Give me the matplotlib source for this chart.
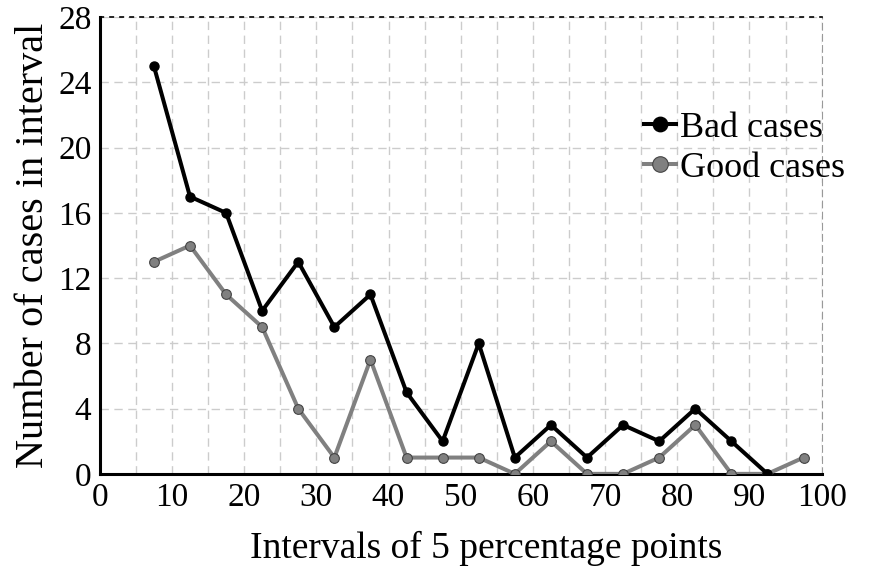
import numpy as np
import matplotlib.pyplot as plt

plt.rcParams['font.family'] = ['Liberation Serif', 'DejaVu Serif']

x_bad = [7.5, 12.5, 17.5, 22.5, 27.5, 32.5, 37.5, 42.5, 47.5, 52.5,
         57.5, 62.5, 67.5, 72.5, 77.5, 82.5, 87.5, 92.5]
bad = [25, 17, 16, 10, 13, 9, 11, 5, 2, 8, 1, 3, 1, 3, 2, 4, 2, 0]
x_good = [7.5, 12.5, 17.5, 22.5, 27.5, 32.5, 37.5, 42.5, 47.5, 52.5,
          57.5, 62.5, 67.5, 72.5, 77.5, 82.5, 87.5, 92.5, 97.5]
good = [13, 14, 11, 9, 4, 1, 7, 1, 1, 1, 0, 2, 0, 0, 1, 3, 0, 0, 1]

fig = plt.figure(figsize=(8.75, 5.73), dpi=100)
ax = fig.add_axes([0.114, 0.173, 0.825, 0.797])

ax.plot(x_bad, bad, color='black', lw=2.9, marker='o', ms=6.5, zorder=4,
        label='Bad cases')
ax.plot(x_good, good, color='#808080', lw=2.9, marker='o', ms=7,
        markeredgecolor='#444444', markeredgewidth=0.8, zorder=3,
        label='Good cases')

ax.set_xlim(0, 100)
ax.set_ylim(0, 28)
ax.set_xticks(np.arange(0, 101, 10))
ax.set_yticks(np.arange(0, 29, 4))
ax.set_xticks(np.arange(0, 101, 5), minor=True)
ax.tick_params(which='both', length=0, labelsize=24, pad=6)
ax.grid(True, which='both', axis='x', color='#cccccc', ls=(0, (6, 4)), lw=1)
ax.grid(True, which='major', axis='y', color='#cccccc', ls=(0, (6, 4)), lw=1)

for s in ['left', 'bottom']:
    ax.spines[s].set_linewidth(2.2)
ax.spines['top'].set_linestyle((0, (2, 4)))
ax.spines['top'].set_linewidth(1.2)
ax.spines['right'].set_linestyle((0, (6, 4)))
ax.spines['right'].set_color('#999999')

ax.set_xlabel('Intervals of 5 percentage points', fontsize=27)
ax.xaxis.set_label_coords(0.536, -0.125)
ax.set_ylabel('Number of cases in interval', fontsize=29, labelpad=4)

ax.legend(loc='upper right', bbox_to_anchor=(1.077, 0.865), frameon=False,
          fontsize=26, handlelength=0.9, handletextpad=0.1, labelspacing=0.2,
          markerscale=1.6)

fig.savefig('out.png', dpi=100)
